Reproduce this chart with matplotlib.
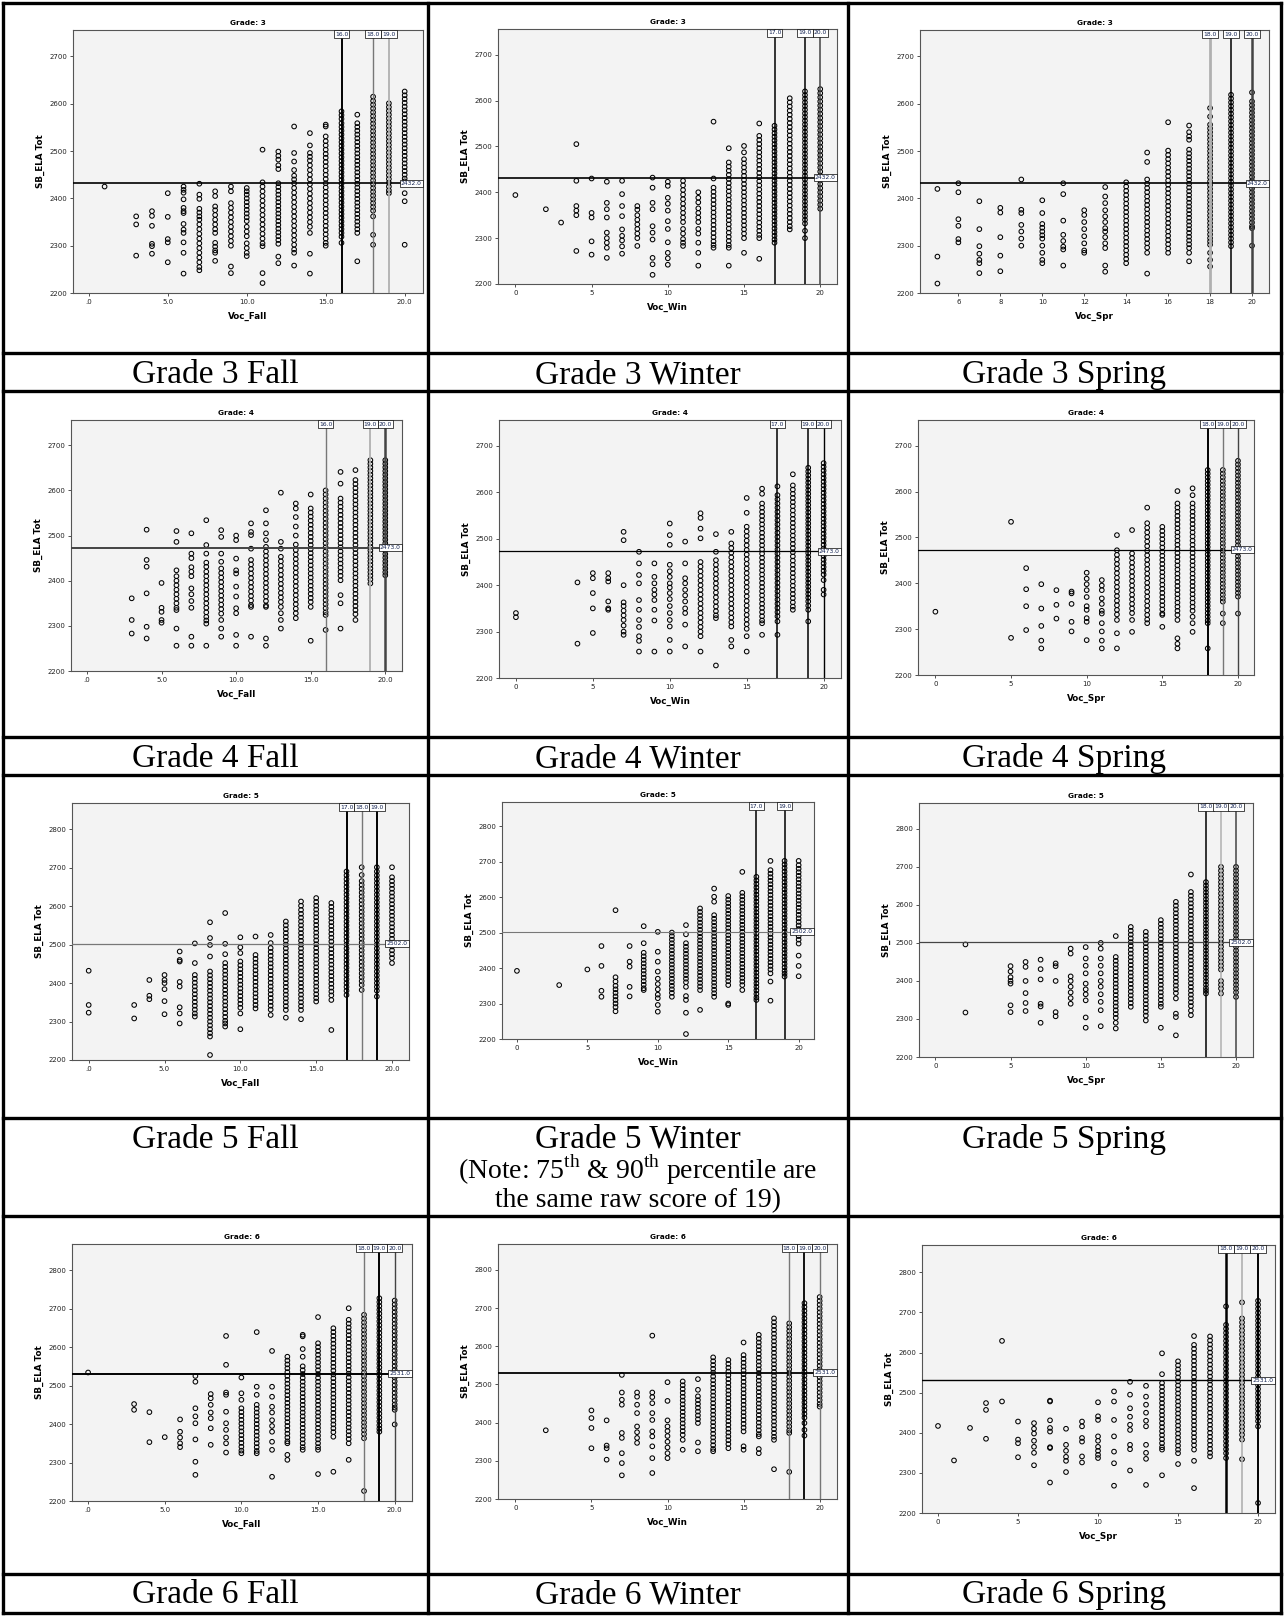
import matplotlib
matplotlib.use("Agg")
import matplotlib.pyplot as plt
from matplotlib.lines import Line2D
from matplotlib.transforms import blended_transform_factory as blend

plt.rcParams['font.family'] = ['DejaVu Sans']
plt.rcParams['mathtext.fontset'] = 'custom'
plt.rcParams['mathtext.rm'] = 'Liberation Serif'

# ---------------- DATA ----------------
yticks_g34 = [2200, 2300, 2400, 2500, 2600, 2700]
yticks_g56 = [2200, 2300, 2400, 2500, 2600, 2700, 2800]
xticks_std = [0, 5, 10, 15, 20]
xlabels_fall = [".0", "5.0", "10.0", "15.0", "20.0"]
xlabels_int = ["0", "5", "10", "15", "20"]
xticks_g3spr = [6, 8, 10, 12, 14, 16, 18, 20]
xlabels_g3spr = ["6", "8", "10", "12", "14", "16", "18", "20"]

ref_scores = {3: 2432, 4: 2473, 5: 2502, 6: 2531}
pct_g3_fall = [16, 18, 19]
pct_g3_win = [17, 19, 20]
pct_g3_spr = [18, 19, 20]
pct_g4_fall = [16, 19, 20]
pct_g4_win = [17, 19, 20]
pct_g4_spr = [18, 19, 20]
pct_g5_fall = [17, 18, 19]
pct_g5_win = [17, 19]
pct_g5_spr = [18, 19, 20]
pct_g6_fall = [18, 19, 20]
pct_g6_win = [18, 19, 20]
pct_g6_spr = [18, 19, 20]

g3_fall = {
 1: "2425",
 3: "2362 2345 2279",
 4: "2373 2363 2342 2304 2299 2283",
 5: "2411 2361 2314 2307 2265",
 6: "2425 2418 2412 2398 2380 2373 2369 2346 2334 2327 2307 2285 2241",
 7: "2431 2408 2399 2378 2370 2362 2355 2345 2335 2325 2315 2305 2295 2285 2275 2265 2255 2248",
 8: "2415 2405 2383 2375 2365 2355 2345 2335 2327 2306 2298 2290 2285 2268",
 9: "2425 2415 2390 2380 2370 2360 2350 2340 2330 2320 2310 2300 2256 2242",
 10: "2422 2415 2408 2400 2392 2384 2376 2368 2360 2352 2340 2330 2320 2305 2295 2285 2278",
 11: "2503 2434 2425 2415 2405 2395 2385 2375 2365 2355 2345 2335 2325 2315 2305 2299 2242 2221",
 12: "2499 2490 2482 2470 2462 2432 2424 2416 2408 2400 2392 2384 2376 2368 2360 2352 2344 2336 2328 2320 2312 2304 2277 2263",
 13: "2552 2496 2478 2460 2448 2440 2432 2422 2412 2402 2392 2382 2372 2362 2352 2342 2332 2322 2312 2302 2292 2285 2258",
 14: "2538 2512 2496 2488 2480 2470 2460 2450 2440 2430 2420 2410 2400 2390 2380 2370 2360 2350 2340 2327 2283 2241",
 15: "2556 2552 2531 2521 2512 2503 2494 2486 2477 2468 2459 2450 2441 2432 2423 2414 2405 2396 2387 2378 2369 2360 2351 2342 2333 2324 2315 2306 2300",
 16: "2584 2576 2568 2559 2551 2543 2535 2527 2519 2511 2503 2495 2487 2479 2471 2463 2455 2447 2439 2431 2423 2415 2407 2399 2391 2383 2375 2367 2359 2351 2343 2335 2327 2319 2306",
 17: "2577 2559 2551 2543 2535 2527 2519 2511 2503 2495 2487 2479 2471 2463 2455 2447 2439 2431 2423 2415 2407 2399 2391 2383 2375 2367 2359 2351 2343 2335 2327 2267",
 18: "2615 2606 2598 2590 2582 2574 2566 2558 2550 2542 2534 2526 2518 2510 2502 2494 2486 2478 2470 2462 2454 2446 2438 2430 2422 2414 2406 2398 2390 2382 2374 2362 2323 2302",
 19: "2601 2593 2585 2577 2569 2561 2553 2545 2537 2529 2521 2513 2505 2497 2489 2481 2473 2465 2457 2449 2441 2433 2425 2417 2411",
 20: "2626 2618 2610 2602 2594 2586 2578 2570 2562 2554 2546 2538 2530 2522 2514 2506 2498 2490 2482 2474 2466 2458 2450 2442 2436 2411 2394 2302",
}
g3_win = {
 0: "2394",
 2: "2363",
 3: "2334",
 4: "2505 2425 2370 2360 2350 2272",
 5: "2430 2355 2345 2293 2264",
 6: "2423 2377 2363 2345 2312 2300 2290 2279 2257",
 7: "2425 2396 2370 2348 2319 2305 2295 2282 2266",
 8: "2370 2362 2350 2340 2330 2320 2310 2300 2283",
 9: "2432 2410 2377 2363 2326 2312 2297 2257 2243 2220",
 10: "2423 2414 2388 2375 2360 2337 2320 2291 2268 2256 2242",
 11: "2425 2415 2405 2395 2385 2375 2365 2355 2345 2335 2320 2310 2298 2290 2283",
 12: "2400 2388 2378 2365 2355 2345 2335 2320 2310 2290 2268 2240",
 13: "2554 2430 2410 2401 2392 2383 2374 2365 2356 2347 2338 2329 2320 2311 2302 2293 2285 2279",
 14: "2496 2465 2456 2447 2438 2429 2420 2411 2402 2393 2384 2375 2366 2357 2348 2339 2330 2321 2312 2303 2294 2285 2279 2240",
 15: "2501 2487 2472 2463 2454 2445 2436 2427 2418 2409 2400 2391 2382 2373 2364 2355 2346 2337 2328 2319 2310 2300 2268",
 16: "2550 2523 2514 2505 2496 2487 2478 2469 2460 2451 2442 2433 2424 2415 2406 2397 2388 2379 2370 2361 2352 2343 2334 2325 2316 2307 2300 2255",
 17: "2545 2537 2529 2521 2513 2505 2497 2489 2481 2473 2465 2457 2449 2441 2433 2425 2417 2409 2401 2393 2385 2377 2369 2361 2353 2345 2337 2329 2321 2313 2305 2297 2290",
 18: "2605 2596 2587 2578 2569 2560 2551 2542 2533 2524 2515 2506 2497 2488 2479 2470 2461 2452 2443 2434 2425 2416 2407 2398 2389 2380 2371 2362 2353 2344 2335 2326 2319",
 19: "2620 2612 2604 2596 2588 2580 2572 2564 2556 2548 2540 2532 2524 2516 2508 2500 2492 2484 2476 2468 2460 2452 2444 2436 2428 2420 2412 2404 2396 2388 2380 2372 2364 2356 2348 2340 2332 2316 2300",
 20: "2625 2616 2607 2598 2589 2580 2571 2562 2553 2544 2535 2526 2517 2508 2499 2490 2481 2472 2463 2454 2445 2436 2427 2418 2409 2400 2391 2382 2373 2364",
}
g3_spr = {
 5: "2420 2277 2220",
 6: "2432 2413 2356 2342 2314 2307",
 7: "2394 2335 2299 2283 2270 2263 2242",
 8: "2380 2370 2318 2279 2246",
 9: "2440 2376 2369 2344 2330 2315 2300",
 10: "2396 2369 2346 2338 2330 2322 2315 2300 2285 2270 2263",
 11: "2432 2409 2353 2323 2310 2298 2292 2258",
 12: "2375 2365 2350 2335 2320 2305 2290 2285",
 13: "2424 2404 2390 2375 2362 2350 2337 2330 2318 2305 2295 2258 2245",
 14: "2434 2425 2416 2407 2398 2389 2380 2371 2362 2353 2344 2335 2326 2317 2308 2299 2290 2281 2272 2263",
 15: "2497 2477 2440 2431 2422 2413 2404 2395 2386 2377 2368 2359 2350 2341 2332 2323 2314 2305 2296 2285 2241",
 16: "2561 2501 2492 2483 2474 2465 2456 2447 2438 2429 2420 2411 2402 2393 2384 2375 2366 2357 2348 2339 2330 2321 2312 2303 2294 2285",
 17: "2554 2540 2531 2524 2503 2495 2487 2479 2471 2463 2455 2447 2439 2431 2423 2415 2407 2399 2391 2383 2375 2367 2359 2351 2343 2335 2327 2319 2311 2303 2295 2285 2267",
 18: "2591 2573 2556 2548 2540 2532 2524 2516 2508 2500 2492 2484 2476 2468 2460 2452 2444 2436 2428 2420 2412 2404 2396 2388 2380 2372 2364 2356 2348 2340 2332 2324 2316 2309 2302 2285 2270 2256",
 19: "2619 2611 2603 2595 2587 2579 2571 2563 2555 2547 2539 2531 2523 2515 2507 2499 2491 2483 2475 2467 2459 2451 2443 2435 2427 2419 2411 2403 2395 2387 2379 2371 2363 2355 2347 2339 2331 2323 2315 2307 2299",
 20: "2624 2605 2597 2589 2581 2573 2565 2557 2549 2541 2533 2525 2517 2509 2501 2493 2485 2477 2469 2461 2453 2445 2437 2429 2421 2413 2405 2397 2389 2381 2373 2365 2357 2349 2341 2337 2300",
}
g4_fall = {
 3: "2361 2313 2283",
 4: "2513 2446 2431 2372 2298 2272",
 5: "2395 2340 2331 2313 2307",
 6: "2510 2486 2423 2410 2400 2390 2380 2370 2360 2350 2340 2335 2294 2256",
 7: "2505 2460 2450 2430 2420 2410 2383 2370 2355 2340 2276 2256",
 8: "2534 2479 2460 2440 2431 2420 2410 2400 2390 2380 2370 2360 2350 2340 2330 2320 2312 2305 2256",
 9: "2512 2497 2460 2442 2427 2417 2407 2397 2387 2377 2367 2357 2347 2337 2327 2313 2294 2276",
 10: "2500 2490 2449 2423 2416 2387 2365 2339 2328 2280 2256",
 11: "2527 2508 2501 2471 2446 2436 2426 2416 2406 2396 2386 2376 2366 2356 2346 2342 2276",
 12: "2556 2527 2505 2490 2475 2465 2455 2445 2435 2425 2415 2405 2395 2385 2375 2365 2355 2345 2342 2272 2256",
 13: "2595 2486 2471 2453 2443 2433 2423 2413 2403 2393 2383 2373 2363 2353 2342 2328 2313 2294",
 14: "2571 2560 2541 2520 2500 2480 2468 2458 2448 2438 2428 2418 2408 2398 2388 2378 2368 2358 2348 2338 2328 2317",
 15: "2591 2560 2551 2542 2533 2524 2515 2506 2497 2488 2479 2470 2461 2452 2443 2434 2425 2416 2407 2398 2389 2380 2371 2362 2353 2342 2267",
 16: "2600 2591 2582 2573 2564 2555 2546 2537 2528 2519 2510 2501 2492 2483 2474 2465 2456 2447 2438 2429 2420 2411 2402 2393 2384 2375 2366 2357 2348 2339 2330 2324 2291",
 17: "2641 2615 2582 2573 2564 2555 2546 2537 2528 2519 2510 2501 2492 2483 2474 2465 2456 2447 2438 2429 2420 2411 2401 2368 2350 2294",
 18: "2645 2623 2614 2605 2596 2587 2578 2569 2560 2551 2542 2533 2524 2515 2506 2497 2488 2479 2470 2461 2452 2443 2434 2425 2416 2407 2398 2389 2380 2371 2362 2353 2344 2335 2326 2313",
 19: "2667 2659 2651 2643 2635 2627 2619 2611 2603 2595 2587 2579 2571 2563 2555 2547 2539 2531 2523 2515 2507 2499 2491 2483 2475 2467 2459 2451 2443 2435 2427 2419 2411 2403 2394",
 20: "2667 2659 2651 2643 2635 2627 2619 2611 2603 2595 2587 2579 2571 2563 2555 2547 2539 2531 2523 2515 2507 2499 2491 2483 2475 2467 2459 2451 2443 2435 2427 2419 2412",
}
g4_win = {
 0: "2340 2331",
 4: "2406 2274",
 5: "2426 2415 2383 2350 2297",
 6: "2426 2415 2408 2365 2350 2347",
 7: "2515 2497 2400 2363 2355 2345 2335 2325 2313 2300 2293",
 8: "2472 2447 2422 2404 2368 2347 2325 2310 2290 2280 2257",
 9: "2447 2418 2404 2390 2380 2368 2347 2324 2257",
 10: "2533 2508 2487 2444 2430 2418 2404 2395 2383 2370 2355 2340 2325 2311 2282 2257",
 11: "2494 2447 2415 2404 2390 2378 2365 2350 2340 2315 2268",
 12: "2555 2545 2522 2501 2450 2440 2430 2420 2410 2400 2390 2380 2370 2360 2350 2340 2330 2320 2310 2300 2290 2257",
 13: "2510 2472 2454 2444 2434 2424 2414 2404 2394 2384 2374 2364 2354 2344 2335 2329 2227",
 14: "2515 2490 2480 2470 2460 2450 2440 2430 2420 2410 2400 2390 2380 2370 2360 2350 2340 2330 2320 2311 2282 2268",
 15: "2588 2556 2526 2516 2506 2496 2486 2476 2466 2456 2446 2436 2426 2416 2406 2396 2386 2376 2366 2356 2346 2336 2326 2316 2306 2290 2257",
 16: "2608 2597 2576 2567 2558 2549 2540 2531 2522 2513 2504 2495 2486 2477 2468 2459 2450 2441 2432 2423 2414 2405 2396 2387 2378 2369 2360 2351 2342 2333 2324 2318 2293",
 17: "2613 2594 2585 2576 2567 2558 2549 2540 2531 2522 2513 2504 2495 2486 2477 2468 2459 2450 2441 2432 2423 2414 2405 2396 2387 2378 2369 2360 2351 2342 2333 2322 2293",
 18: "2639 2615 2606 2597 2588 2579 2570 2561 2552 2543 2534 2525 2516 2507 2498 2489 2480 2471 2462 2453 2444 2435 2426 2417 2408 2399 2390 2381 2372 2363 2354 2347",
 19: "2653 2645 2637 2629 2621 2613 2605 2597 2589 2581 2573 2565 2557 2549 2541 2533 2525 2517 2509 2501 2493 2485 2477 2469 2461 2453 2445 2437 2429 2421 2413 2405 2397 2389 2381 2373 2365 2356 2347 2322",
 20: "2663 2655 2647 2639 2631 2623 2615 2607 2599 2591 2583 2575 2567 2559 2551 2543 2535 2527 2519 2511 2503 2495 2487 2479 2471 2463 2455 2447 2439 2431 2423 2411 2390 2380",
}
g4_spr = {
 0: "2338",
 5: "2534 2281",
 6: "2433 2387 2350 2298",
 7: "2398 2345 2307 2275 2258",
 8: "2385 2353 2323",
 9: "2382 2378 2355 2316 2295",
 10: "2423 2410 2398 2385 2370 2350 2342 2324 2316 2276",
 11: "2407 2395 2385 2367 2355 2340 2334 2313 2295 2275 2258",
 12: "2505 2472 2462 2452 2442 2432 2422 2412 2402 2392 2382 2372 2362 2352 2342 2332 2320 2291 2258",
 13: "2516 2465 2455 2445 2435 2425 2415 2405 2395 2385 2375 2365 2355 2345 2335 2320 2294",
 14: "2565 2531 2521 2511 2501 2491 2481 2471 2461 2451 2441 2431 2421 2411 2401 2391 2381 2371 2361 2351 2341 2331 2321 2313",
 15: "2523 2514 2505 2496 2487 2478 2469 2460 2451 2442 2433 2424 2415 2406 2397 2388 2379 2370 2361 2352 2343 2334 2331 2305",
 16: "2601 2574 2565 2556 2547 2538 2529 2520 2511 2502 2493 2484 2475 2466 2457 2448 2439 2430 2421 2412 2403 2394 2385 2376 2367 2358 2349 2340 2331 2320 2280 2268 2258",
 17: "2607 2592 2574 2565 2556 2547 2538 2529 2520 2511 2502 2493 2484 2475 2466 2457 2448 2439 2430 2421 2412 2403 2394 2385 2376 2367 2358 2349 2340 2327 2313 2294",
 18: "2647 2639 2631 2623 2615 2607 2599 2591 2583 2575 2567 2559 2551 2543 2535 2527 2519 2511 2503 2495 2487 2479 2471 2463 2455 2447 2439 2431 2423 2415 2407 2399 2391 2383 2375 2367 2359 2351 2343 2335 2327 2319 2313 2258",
 19: "2647 2639 2631 2623 2615 2607 2599 2591 2583 2575 2567 2559 2551 2543 2535 2527 2519 2511 2503 2495 2487 2479 2471 2463 2455 2447 2439 2431 2423 2415 2407 2399 2391 2383 2375 2367 2360 2334 2313",
 20: "2667 2659 2651 2643 2635 2627 2619 2611 2603 2595 2587 2579 2571 2563 2555 2547 2539 2531 2523 2515 2507 2499 2491 2483 2475 2467 2459 2451 2443 2435 2427 2419 2411 2403 2395 2387 2379 2371 2334",
}
g5_fall = {
 0: "2432 2343 2323",
 3: "2343 2308",
 4: "2408 2367 2358",
 5: "2421 2408 2400 2384 2353 2319",
 6: "2482 2460 2456 2403 2391 2337 2321 2295",
 7: "2503 2452 2421 2411 2401 2391 2381 2371 2361 2351 2341 2331 2321 2313",
 8: "2558 2517 2499 2469 2430 2420 2410 2400 2390 2380 2370 2360 2350 2340 2330 2320 2310 2300 2290 2280 2270 2261 2213",
 9: "2582 2502 2475 2452 2442 2432 2422 2412 2402 2392 2382 2372 2362 2352 2342 2332 2322 2312 2302 2295 2287",
 10: "2519 2493 2478 2456 2446 2436 2426 2416 2406 2396 2386 2376 2366 2356 2346 2336 2321 2280",
 11: "2521 2473 2463 2453 2443 2433 2423 2413 2403 2393 2383 2373 2363 2353 2343 2334",
 12: "2525 2504 2491 2481 2471 2461 2451 2441 2431 2421 2411 2401 2391 2381 2371 2361 2351 2341 2331 2317",
 13: "2560 2550 2540 2530 2520 2510 2500 2490 2480 2470 2460 2450 2440 2430 2420 2410 2400 2390 2380 2370 2360 2350 2340 2330 2310",
 14: "2612 2601 2590 2580 2570 2560 2550 2540 2530 2520 2510 2500 2490 2480 2470 2460 2450 2440 2430 2420 2410 2400 2390 2380 2370 2360 2350 2340 2330 2306",
 15: "2621 2611 2601 2591 2581 2571 2561 2551 2541 2531 2521 2511 2501 2491 2481 2471 2461 2451 2441 2431 2421 2411 2401 2391 2381 2371 2361 2352",
 16: "2608 2598 2588 2578 2568 2558 2548 2538 2528 2518 2508 2498 2488 2478 2468 2458 2448 2438 2428 2418 2408 2398 2388 2378 2368 2356 2278",
 17: "2690 2680 2670 2660 2650 2640 2630 2620 2610 2600 2590 2580 2570 2560 2550 2540 2530 2520 2510 2500 2490 2480 2470 2460 2450 2440 2430 2420 2410 2400 2390 2380 2369",
 18: "2701 2681 2665 2655 2645 2635 2625 2615 2605 2595 2585 2575 2565 2555 2545 2535 2525 2515 2505 2495 2485 2475 2465 2455 2445 2435 2425 2415 2405 2395 2382",
 19: "2701 2690 2680 2670 2660 2650 2640 2630 2620 2610 2600 2590 2580 2570 2560 2550 2540 2530 2520 2510 2500 2490 2480 2470 2460 2450 2440 2430 2420 2410 2400 2390 2380 2365",
 20: "2701 2675 2665 2655 2645 2635 2625 2615 2605 2595 2585 2575 2565 2555 2545 2535 2525 2515 2505 2495 2485 2475 2465 2452",
}
g5_win = {
 0: "2392",
 3: "2352",
 5: "2396",
 6: "2462 2406 2336 2319",
 7: "2563 2374 2362 2350 2340 2330 2320 2310 2300 2290 2278",
 8: "2462 2418 2404 2347 2320",
 9: "2518 2470 2443 2433 2423 2413 2403 2393 2383 2373 2363 2353 2343 2338",
 10: "2502 2446 2418 2390 2370 2355 2340 2325 2315 2296 2277",
 11: "2500 2490 2480 2470 2460 2450 2440 2430 2420 2410 2400 2390 2380 2370 2360 2350 2340 2330 2319",
 12: "2521 2495 2470 2460 2450 2440 2430 2420 2410 2400 2390 2380 2370 2360 2347 2321 2310 2274 2214",
 13: "2568 2558 2548 2538 2528 2518 2508 2498 2488 2478 2468 2458 2448 2438 2428 2418 2408 2398 2388 2378 2368 2358 2348 2338 2282",
 14: "2624 2601 2587 2549 2539 2529 2519 2509 2499 2489 2479 2469 2459 2449 2439 2429 2419 2409 2399 2389 2379 2369 2359 2349 2339 2329 2319",
 15: "2603 2593 2583 2573 2563 2553 2543 2533 2523 2513 2503 2493 2483 2473 2463 2453 2443 2433 2423 2413 2403 2393 2383 2373 2363 2352 2300 2296",
 16: "2671 2612 2602 2592 2582 2572 2562 2552 2542 2532 2522 2512 2502 2492 2482 2472 2462 2452 2442 2432 2422 2412 2402 2392 2382 2372 2362 2352 2338",
 17: "2657 2647 2637 2627 2617 2607 2597 2587 2577 2567 2557 2547 2537 2527 2517 2507 2497 2487 2477 2467 2457 2447 2437 2427 2417 2407 2397 2387 2377 2367 2357 2347 2337 2327 2317 2310",
 18: "2702 2676 2666 2656 2646 2636 2626 2616 2606 2596 2586 2576 2566 2556 2546 2536 2526 2516 2506 2496 2486 2476 2466 2456 2446 2436 2426 2416 2406 2396 2385 2362 2308",
 19: "2702 2692 2682 2672 2662 2652 2642 2632 2622 2612 2602 2592 2582 2572 2562 2552 2542 2532 2522 2512 2502 2492 2482 2472 2462 2452 2442 2432 2422 2412 2402 2392 2384 2376",
 20: "2702 2690 2680 2670 2660 2650 2640 2630 2620 2610 2600 2590 2580 2570 2560 2550 2540 2530 2520 2510 2500 2490 2480 2469 2435 2406 2377",
}
g5_spr = {
 2: "2496 2317",
 5: "2439 2425 2410 2400 2393 2336 2318",
 6: "2450 2437 2400 2368 2342 2321",
 7: "2456 2431 2404 2340 2333 2290",
 8: "2446 2439 2400 2318 2307",
 9: "2485 2472 2412 2400 2385 2370 2355 2340",
 10: "2489 2459 2440 2420 2393 2378 2365 2349 2304 2277",
 11: "2500 2485 2459 2440 2420 2400 2385 2365 2345 2323 2281",
 12: "2518 2463 2453 2443 2433 2423 2413 2403 2393 2383 2373 2363 2353 2343 2333 2323 2313 2303 2290 2275",
 13: "2542 2532 2522 2512 2502 2492 2482 2472 2462 2452 2442 2432 2422 2412 2402 2392 2382 2372 2362 2352 2342 2332",
 14: "2529 2519 2509 2499 2489 2479 2469 2459 2449 2439 2429 2419 2409 2399 2389 2379 2369 2359 2349 2339 2329 2319 2309 2296",
 15: "2560 2550 2540 2530 2520 2510 2500 2490 2480 2470 2460 2450 2440 2430 2420 2410 2400 2390 2380 2370 2360 2350 2340 2332 2277",
 16: "2608 2598 2588 2578 2568 2558 2548 2538 2528 2518 2508 2498 2488 2478 2468 2458 2448 2438 2428 2418 2408 2398 2388 2378 2368 2354 2314 2305 2257",
 17: "2680 2634 2624 2614 2604 2594 2584 2574 2564 2554 2544 2534 2524 2514 2504 2494 2484 2474 2464 2454 2444 2434 2424 2414 2404 2394 2384 2374 2364 2354 2344 2334 2322 2310",
 18: "2660 2651 2642 2633 2624 2615 2606 2597 2588 2579 2570 2561 2552 2543 2534 2525 2516 2507 2498 2489 2480 2471 2462 2453 2444 2435 2426 2417 2408 2399 2390 2381 2374 2367",
 19: "2700 2690 2680 2670 2660 2650 2640 2630 2620 2610 2600 2590 2580 2570 2560 2550 2540 2530 2520 2510 2500 2490 2480 2470 2460 2450 2440 2430 2400 2390 2380 2367",
 20: "2700 2690 2680 2670 2660 2650 2640 2630 2620 2610 2600 2590 2580 2570 2560 2550 2540 2530 2520 2510 2500 2490 2480 2470 2460 2450 2440 2430 2420 2410 2400 2390 2380 2370 2358",
}
g6_fall = {
 0: "2534",
 3: "2452 2437",
 4: "2431 2353",
 5: "2366",
 6: "2412 2380 2365 2350 2340",
 7: "2525 2510 2441 2420 2402 2360 2302 2268",
 8: "2478 2467 2450 2430 2415 2389 2346",
 9: "2629 2554 2482 2476 2432 2402 2385 2365 2350 2326",
 10: "2521 2480 2463 2441 2431 2421 2411 2401 2391 2381 2371 2361 2351 2341 2331 2324",
 11: "2639 2497 2476 2450 2440 2430 2420 2410 2400 2390 2380 2370 2360 2350 2340 2330 2324",
 12: "2590 2497 2471 2445 2430 2410 2395 2380 2354 2333 2263",
 13: "2575 2565 2555 2545 2535 2525 2515 2505 2495 2485 2475 2465 2455 2445 2435 2425 2415 2405 2395 2385 2375 2365 2355 2350 2320 2307",
 14: "2632 2628 2595 2575 2550 2540 2530 2520 2510 2500 2490 2480 2470 2460 2450 2440 2430 2420 2410 2400 2390 2380 2370 2360 2350 2340 2333",
 15: "2678 2610 2600 2590 2580 2570 2560 2550 2540 2530 2520 2510 2500 2490 2480 2470 2460 2450 2440 2430 2420 2410 2400 2390 2380 2370 2360 2350 2340 2333 2270",
 16: "2649 2639 2629 2619 2609 2599 2589 2579 2569 2559 2549 2539 2529 2519 2509 2499 2489 2479 2469 2459 2449 2439 2429 2419 2409 2399 2389 2379 2367 2276",
 17: "2701 2671 2661 2651 2641 2631 2621 2611 2601 2591 2581 2571 2561 2551 2541 2531 2521 2511 2501 2491 2481 2471 2461 2451 2441 2431 2421 2411 2401 2391 2381 2371 2361 2350 2307",
 18: "2684 2674 2664 2654 2644 2634 2624 2614 2604 2594 2584 2574 2564 2554 2544 2534 2524 2514 2504 2494 2484 2474 2464 2454 2444 2434 2424 2414 2404 2394 2384 2374 2363 2226",
 19: "2727 2717 2707 2697 2687 2677 2667 2657 2647 2637 2627 2617 2607 2597 2587 2577 2567 2557 2547 2537 2527 2517 2507 2497 2487 2477 2467 2457 2447 2437 2427 2417 2407 2397 2388 2380",
 20: "2721 2711 2701 2691 2681 2671 2661 2651 2641 2631 2621 2611 2601 2591 2581 2571 2561 2551 2541 2531 2521 2511 2501 2491 2481 2471 2461 2451 2443 2437 2399",
}
g6_win = {
 2: "2380",
 5: "2432 2412 2386 2333",
 6: "2406 2340 2333 2303",
 7: "2525 2479 2460 2447 2373 2360 2320 2294 2262",
 8: "2479 2468 2447 2425 2390 2375 2360 2347",
 9: "2628 2479 2467 2451 2425 2407 2377 2364 2338 2307 2268",
 10: "2506 2457 2406 2390 2378 2365 2350 2335 2320 2307",
 11: "2508 2498 2488 2478 2468 2458 2448 2438 2428 2418 2408 2398 2388 2378 2368 2355 2329",
 12: "2514 2486 2469 2459 2449 2439 2429 2419 2409 2399 2348 2325",
 13: "2571 2561 2551 2541 2531 2521 2511 2501 2491 2481 2471 2461 2451 2441 2431 2421 2411 2401 2391 2381 2371 2361 2351 2341 2331 2325",
 14: "2564 2554 2544 2534 2524 2514 2504 2494 2484 2474 2464 2454 2444 2434 2424 2414 2404 2394 2384 2374 2364 2354 2344 2333",
 15: "2610 2577 2567 2557 2547 2537 2527 2517 2507 2497 2487 2477 2467 2457 2447 2437 2427 2417 2407 2397 2387 2377 2338 2329",
 16: "2630 2620 2610 2600 2590 2580 2570 2560 2550 2540 2530 2520 2510 2500 2490 2480 2470 2460 2450 2440 2430 2420 2410 2400 2390 2380 2370 2364 2331 2320",
 17: "2673 2663 2653 2643 2633 2623 2613 2603 2593 2583 2573 2563 2553 2543 2533 2523 2513 2503 2493 2483 2473 2463 2453 2443 2433 2423 2413 2403 2393 2383 2373 2363 2355 2278",
 18: "2660 2650 2640 2630 2620 2610 2600 2590 2580 2570 2560 2550 2540 2530 2520 2510 2500 2490 2480 2470 2460 2450 2440 2430 2420 2410 2400 2390 2380 2373 2271",
 19: "2713 2703 2693 2683 2673 2663 2653 2643 2633 2623 2613 2603 2593 2583 2573 2563 2553 2543 2533 2523 2513 2503 2493 2483 2473 2463 2453 2443 2433 2423 2413 2399 2381 2366",
 20: "2729 2719 2709 2699 2689 2679 2669 2659 2649 2639 2629 2619 2609 2599 2589 2579 2569 2559 2549 2539 2529 2519 2509 2499 2489 2479 2469 2459 2449 2442",
}
g6_spr = {
 0: "2417",
 1: "2331",
 2: "2412",
 3: "2474 2457 2385",
 4: "2629 2478",
 5: "2428 2383 2374 2339",
 6: "2424 2410 2398 2380 2365 2350 2319",
 7: "2480 2478 2431 2412 2403 2364 2362 2276",
 8: "2410 2370 2355 2340 2330 2302",
 9: "2428 2416 2387 2378 2341 2326",
 10: "2476 2441 2432 2391 2380 2365 2355 2345 2337",
 11: "2503 2478 2432 2391 2353 2324 2268",
 12: "2527 2495 2461 2440 2420 2407 2370 2359 2306",
 13: "2517 2490 2470 2450 2430 2416 2370 2350 2335 2270",
 14: "2598 2546 2524 2514 2504 2494 2484 2474 2464 2454 2444 2434 2424 2414 2404 2394 2384 2374 2364 2358 2294",
 15: "2578 2568 2558 2548 2538 2528 2518 2508 2498 2488 2478 2468 2458 2448 2438 2428 2418 2408 2398 2388 2378 2368 2358 2349 2322",
 16: "2641 2619 2609 2599 2589 2579 2569 2559 2549 2539 2529 2519 2509 2499 2489 2479 2469 2459 2449 2439 2429 2419 2409 2399 2389 2379 2369 2358 2330 2262",
 17: "2640 2630 2620 2610 2600 2590 2580 2570 2560 2550 2540 2530 2520 2510 2500 2490 2480 2470 2460 2450 2440 2430 2420 2410 2400 2390 2380 2370 2360 2350 2341",
 18: "2715 2669 2659 2649 2639 2629 2619 2609 2599 2589 2579 2569 2559 2549 2539 2529 2519 2509 2499 2489 2479 2469 2459 2449 2439 2429 2419 2409 2399 2389 2379 2369 2359 2349 2337",
 19: "2725 2685 2675 2665 2655 2645 2635 2625 2615 2605 2595 2585 2575 2565 2555 2545 2535 2525 2515 2505 2495 2485 2475 2465 2455 2445 2435 2425 2415 2405 2395 2383 2334",
 20: "2729 2719 2709 2699 2689 2679 2669 2659 2649 2639 2629 2619 2609 2599 2589 2579 2569 2559 2549 2539 2529 2519 2509 2499 2489 2479 2469 2459 2449 2439 2429 2416 2225",
}

captions = ["Grade 3 Fall", "Grade 3 Winter", "Grade 3 Spring",
            "Grade 4 Fall", "Grade 4 Winter", "Grade 4 Spring",
            "Grade 5 Fall", "Grade 5 Winter", "Grade 5 Spring",
            "Grade 6 Fall", "Grade 6 Winter", "Grade 6 Spring"]
note_lines = [r"(Note: 75$^{\mathrm{th}}$ & 90$^{\mathrm{th}}$ percentile are",
              "the same raw score of 19)"]

# ---------------- LAYOUT ----------------
W, H = 1284, 1616
fig = plt.figure(figsize=(W / 100, H / 100), dpi=100)

K, DG, G, LG = "black", "#444444", "#777777", "#b0b0b0"
panels = [
    (g3_fall, 3, "Voc_Fall", pct_g3_fall, [(K, 1.4), (G, 1.0), (LG, 1.3)], (73, 30, 423, 293), (-1.0, 21.16), xticks_std, xlabels_fall, (K, 1.2)),
    (g3_win, 3, "Voc_Win", pct_g3_win, [(K, 1.1), (K, 1.1), (DG, 1.1)], (498, 29, 837, 284), (-1.14, 21.1), xticks_std, xlabels_int, (K, 1.2)),
    (g3_spr, 3, "Voc_Spr", pct_g3_spr, [(LG, 2.0), (K, 1.1), (DG, 1.8)], (920, 30, 1269, 293), (4.17, 20.81), xticks_g3spr, xlabels_g3spr, (K, 1.2)),
    (g4_fall, 4, "Voc_Fall", pct_g4_fall, [(G, 1.0), (LG, 1.3), (DG, 1.8)], (71, 420, 402, 671), (-1.07, 21.12), xticks_std, xlabels_fall, (DG, 1.4)),
    (g4_win, 4, "Voc_Win", pct_g4_win, [(K, 1.1), (K, 1.1), (K, 1.0)], (499, 420, 841, 678), (-1.1, 21.13), xticks_std, xlabels_int, (K, 0.9)),
    (g4_spr, 4, "Voc_Spr", pct_g4_spr, [(K, 1.4), (G, 1.0), (DG, 1.0)], (918, 420, 1254, 675), (-1.15, 21.06), xticks_std, xlabels_int, (K, 0.9)),
    (g5_fall, 5, "Voc_Fall", pct_g5_fall, [(K, 1.4), (G, 1.0), (K, 1.4)], (72, 803, 409, 1060), (-1.1, 21.12), xticks_std, xlabels_fall, (G, 0.9)),
    (g5_win, 5, "Voc_Win", pct_g5_win, [(K, 1.1), (K, 1.1)], (502, 802, 814, 1039), (-1.06, 21.09), xticks_std, xlabels_int, (G, 0.8)),
    (g5_spr, 5, "Voc_Spr", pct_g5_spr, [(K, 1.1), (LG, 1.1), (DG, 1.1)], (919, 803, 1253, 1057), (-1.09, 21.13), xticks_std, xlabels_int, (DG, 0.9)),
    (g6_fall, 6, "Voc_Fall", pct_g6_fall, [(G, 1.0), (K, 1.4), (DG, 1.0)], (72, 1244, 412, 1501), (-1.05, 21.13), xticks_std, xlabels_fall, (K, 1.4)),
    (g6_win, 6, "Voc_Win", pct_g6_win, [(G, 1.0), (K, 1.3), (G, 1.0)], (498, 1244, 837, 1499), (-1.14, 21.14), xticks_std, xlabels_int, (K, 1.3)),
    (g6_spr, 6, "Voc_Spr", pct_g6_spr, [(K, 1.8), (LG, 1.2), (K, 1.4)], (922, 1245, 1275, 1513), (-1.0, 21.06), xticks_std, xlabels_int, (K, 1.0)),
]

lbl_box = dict(boxstyle="square,pad=0.18", fc="white", ec="black", lw=0.5)

for (data, grade, xlab, pcts, pstyles, box, xlim, xt, xtl, hstyle) in panels:
    L, T, R, B = box
    wpx, hpx = R - L, B - T
    ax = fig.add_axes([L / W, 1 - B / H, wpx / W, hpx / H])
    ax.set_facecolor("#f3f3f3")
    xs, ys = [], []
    for xv, s in data.items():
        vals = [int(v) for v in s.split()]
        xs += [xv] * len(vals)
        ys += vals
    ax.scatter(xs, ys, s=11, facecolors="none", edgecolors="black",
               linewidths=0.75, zorder=3)
    ref = ref_scores[grade]
    ax.axhline(ref, color=hstyle[0], lw=hstyle[1], zorder=4)
    for p, (c, lw) in zip(pcts, pstyles):
        ax.axvline(p, color=c, lw=lw, zorder=4)
        ax.text(p, 1 - 1.5 / hpx, f"{p:.1f}", transform=blend(ax.transData, ax.transAxes),
                ha="center", va="top", fontsize=4.3, color="#102050", bbox=lbl_box, zorder=6)
    ax.text(1 - 1.5 / wpx, ref, f"{ref:.1f}", transform=blend(ax.transAxes, ax.transData),
            ha="right", va="center", fontsize=4.3, color="#102050", bbox=lbl_box, zorder=6,
            clip_on=False)
    ax.set_xlim(*xlim)
    ax.set_ylim(2200, 2756 if grade <= 4 else 2868)
    ax.set_yticks(yticks_g34 if grade <= 4 else yticks_g56)
    ax.set_xticks(xt)
    ax.set_xticklabels(xtl)
    ax.tick_params(axis="both", labelsize=5, length=2.5, width=0.6, pad=1.5,
                   colors="#333333", labelcolor="#222222")
    for sp in ax.spines.values():
        sp.set_color("#555555")
        sp.set_linewidth(0.8)
    ax.text(0.5, 1 + 7 / hpx, f"Grade: {grade}", transform=ax.transAxes, ha="center",
            va="center", fontsize=5.3, fontweight="bold")
    ax.text(0.5, -23 / hpx, xlab, transform=ax.transAxes, ha="center", va="center",
            fontsize=6.3, fontweight="bold")
    ax.text(-33 / wpx, 0.5, "SB_ELA Tot", transform=ax.transAxes, ha="center",
            va="center", rotation=90, fontsize=6.3, fontweight="bold")

# table grid
col_x = [3, 428, 848, 1281]
row_y = [3, 353, 391, 737, 775, 1118, 1216, 1574, 1613]
for y in row_y:
    fig.add_artist(Line2D([col_x[0] / W, col_x[-1] / W], [1 - y / H, 1 - y / H],
                          color="black", lw=2.4, transform=fig.transFigure))
for x in col_x:
    fig.add_artist(Line2D([x / W, x / W], [1 - row_y[0] / H, 1 - row_y[-1] / H],
                          color="black", lw=2.4, transform=fig.transFigure))

cap_baselines = [383, 767, 1148, 1603]
col_centers = [(col_x[i] + col_x[i + 1]) / 2 for i in range(3)]
for i, cap in enumerate(captions):
    r, c = divmod(i, 3)
    fig.text(col_centers[c] / W, 1 - cap_baselines[r] / H, cap, ha="center",
             va="baseline", fontsize=24, family="Liberation Serif")
for yb, line in zip([1179, 1207], note_lines):
    fig.text(col_centers[1] / W, 1 - yb / H, line, ha="center", va="baseline",
             fontsize=20, family="Liberation Serif")

fig.savefig("out.png", dpi=100, facecolor="white")
